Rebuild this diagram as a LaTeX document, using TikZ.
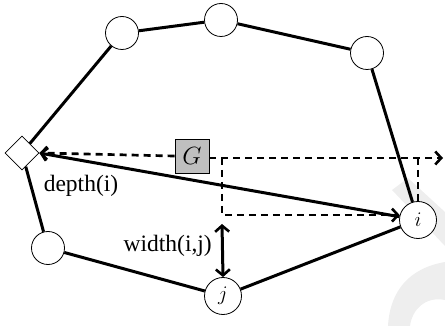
\documentclass[tikz,border=0pt]{standalone}
\usepackage{fontspec}
\setmainfont{Liberation Serif}
\usetikzlibrary{arrows.meta,shapes.geometric}
\begin{document}
\begin{tikzpicture}[x=1pt,y=-1pt,
  vtx/.style={circle, draw, line width=0.8pt, minimum size=33pt, inner sep=0pt, fill=white},
  bigvtx/.style={vtx, minimum size=37pt, font=\fontsize{22}{24}\selectfont\itshape},
  root/.style={diamond, draw, line width=0.8pt, minimum size=34pt, inner sep=0pt, fill=white},
  gbox/.style={draw, fill=gray!50, minimum size=34pt, inner sep=0pt, line width=0.8pt, font=\fontsize{24}{26}\selectfont\itshape},
  edge/.style={line width=3pt},
  dline/.style={line width=2.7pt, dash pattern=on 7pt off 5pt},
  barb/.style={-{Straight Barb[length=6pt,width=13pt,line width=2.6pt]}},
  lbl/.style={font=\fontsize{23.5}{25}\selectfont, inner sep=0pt},
  wm/.style={fill=gray!13, draw=none}
]
\useasboundingbox (0,0) rectangle (445,326);
% watermark
\fill[wm] (392,190) -- (408,178) -- (445,212) -- (445,246) -- cycle;
\fill[wm] (388,326) .. controls (390,290) and (410,268) .. (445,262) -- (445,300) .. controls (425,296) and (412,310) .. (410,326) -- cycle;

\node[root] (r) at (22,153) {};
\node[vtx] (tl) at (122,33) {};
\node[vtx] (tm) at (221,20) {};
\node[vtx] (tr) at (367,53) {};
\node[bigvtx] (i) at (418,220) {$i$};
\node[bigvtx] (j) at (223,296) {$j$};
\node[vtx] (bl) at (48,248) {};
\node[gbox] (G) at (192,156) {$G$};

\draw[edge] (r) -- (tl);
\draw[edge] (tl) -- (tm);
\draw[edge] (tm) -- (tr);
\draw[edge] (tr) -- (i);
\draw[edge] (r) -- (bl);
\draw[edge] (bl) -- (j);
\draw[edge] (j) -- (i);
\draw[edge, barb] (i.170) -- (r.east);

\coordinate (c1) at (222,158);
\coordinate (c2) at (222,215);
\coordinate (e) at (443,158);
\draw[dline, barb] (G.west) -- (r.east);
\draw[dline, barb] (G.east |- e) -- (e);
\draw[dline, barb] (c1) |- (i.165);
\draw[dline] (i.north |- e) -- (i.north);

\draw[edge, {Straight Barb[length=6pt,width=14pt,line width=2.6pt]}-{Straight Barb[length=6pt,width=14pt,line width=2.6pt]}] (222,224) -- (j.north);

\node[lbl] (d) at (81,186) {depth(i)};
\node[lbl, anchor=east] (w) at (212,246) {width(i,j)};
\end{tikzpicture}
\end{document}
